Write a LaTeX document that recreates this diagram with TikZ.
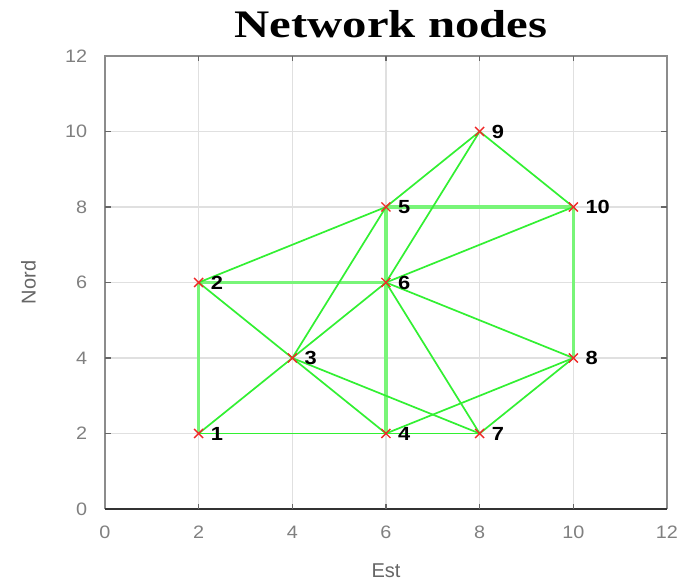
\documentclass[tikz,border=0pt]{standalone}
\usepackage{fontspec}
\setmainfont{Liberation Serif}
\setsansfont{Liberation Sans}
\begin{document}
\begin{tikzpicture}[x=1pt,y=1pt,
  grid/.style={draw=black!12, line width=1.2},
  frame/.style={draw=black!45, line width=1.5},
  ticklab/.style={font=\sffamily\fontsize{18}{18}\selectfont, text=black!50, xscale=1.1},
  axlab/.style={font=\sffamily\fontsize{20}{20}\selectfont, text=black!60},
  thickedge/.style={draw={rgb,255:red,120;green,245;blue,120}, line width=3.2},
  thinedge/.style={draw={rgb,255:red,50;green,240;blue,50}, line width=1.7},
  vert/.style={inner sep=0pt, minimum size=0pt},
  marker/.style={draw={rgb,255:red,240;green,40;blue,40}, line width=1.4},
  nlab/.style={anchor=west, inner sep=0pt, xscale=1.15, font=\sffamily\bfseries\fontsize{19}{19}\selectfont}
]
\useasboundingbox (0,0) rectangle (688,588);
\fill[white] (0,0) rectangle (688,588);
\node[font=\bfseries\fontsize{39}{39}\selectfont, xscale=1.25, anchor=base] (title) at (391,550) {Network nodes};
\begin{scope}[shift={(105,79)}, x=46.83pt, y=37.75pt]
  % grid
  \foreach \v in {2,4,...,10} {
    \draw[grid] (\v,0) -- (\v,12);
    \draw[grid] (0,\v) -- (12,\v);
  }
  % frame
  \draw[frame] (0,0) -- (0,12) -- (12,12) -- (12,0);
  \draw[draw=black!80, line width=1.5] (0,0) -- (12,0);
  \foreach \v in {2,4,...,10} {
    \draw[draw=black!60, line width=1.5] (\v,0) -- ++(0,0.12);
    \draw[draw=black!60, line width=1.5] (\v,12) -- ++(0,-0.12);
    \draw[draw=black!60, line width=1.5] (0,\v) -- ++(0.12,0);
    \draw[draw=black!60, line width=1.5] (12,\v) -- ++(-0.12,0);
  }
  \foreach \v in {0,2,...,12} {
    \node[ticklab, anchor=north] (xt\v) at (\v,-0.35) {\v};
    \node[ticklab, anchor=east] (yt\v) at (-0.3,\v) {\v};
  }
  \node[axlab, anchor=north] (xlab) at (6,-1.35) {Est};
  \node[axlab, rotate=90, anchor=south] (ylab) at (-1.4,6) {Nord};
  % vertices
  \node[vert] (n1) at (2,2) {};
  \node[vert] (n2) at (2,6) {};
  \node[vert] (n3) at (4,4) {};
  \node[vert] (n4) at (6,2) {};
  \node[vert] (n5) at (6,8) {};
  \node[vert] (n6) at (6,6) {};
  \node[vert] (n7) at (8,2) {};
  \node[vert] (n8) at (10,4) {};
  \node[vert] (n9) at (8,10) {};
  \node[vert] (n10) at (10,8) {};
  % thick edges
  \draw[thickedge] (n1) -- (n2);
  \draw[thickedge] (n2) -- (n6);
  \draw[thickedge] (n4) -- (n5);
  \draw[thickedge] (n5) -- (n10);
  \draw[thickedge] (n10) -- (n8);
  % thin edges
  \foreach \a/\b in {n1/n3, n1/n4, n2/n3, n2/n5, n3/n4, n3/n5, n3/n6, n3/n7,
                     n4/n7, n4/n8, n5/n9, n6/n7, n6/n9, n6/n8, n6/n10, n7/n8, n9/n10} {
    \draw[thinedge] (\a) -- (\b);
  }
  % markers and labels
  \foreach \n/\t in {n1/1, n2/2, n3/3, n4/4, n5/5, n6/6, n7/7, n8/8, n9/9, n10/10} {
    \draw[marker] (\n) ++(-4.5pt,-4.5pt) -- ++(9pt,9pt);
    \draw[marker] (\n) ++(-4.5pt,4.5pt) -- ++(9pt,-9pt);
    \node[nlab] (l\n) at ([xshift=12pt]\n) {\t};
  }
\end{scope}
\end{tikzpicture}
\end{document}
